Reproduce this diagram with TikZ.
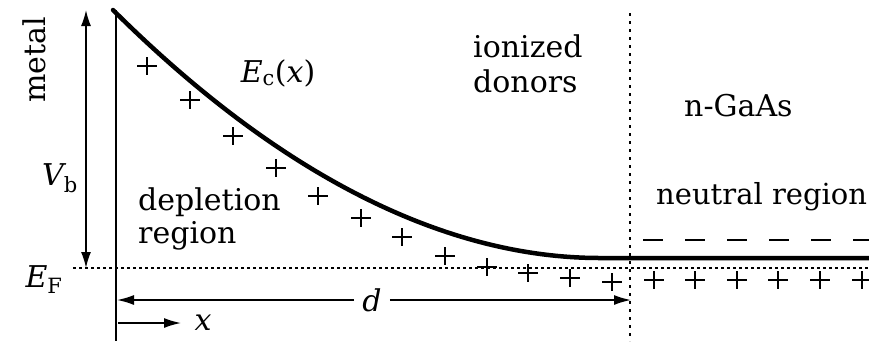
\documentclass[tikz,border=0pt]{standalone}
\usepackage{fontspec}
\setmainfont{DejaVu Serif}
\usetikzlibrary{arrows.meta}
\begin{document}
\begin{tikzpicture}[x=1pt,y=-1pt,
  lbl/.style={font=\fontsize{30}{34}\selectfont, inner sep=0pt},
  thickcurve/.style={line width=4.5pt},
  dotline/.style={line width=1.3pt, dash pattern=on 3pt off 3pt},
  arr/.style={line width=1.6pt, -{Latex[length=17pt,width=10pt]}},
  plusmark/.style={line width=2pt}
]
\useasboundingbox (0,0) rectangle (869,341);
\clip (0,0) rectangle (869,341);
% coordinates
\coordinate (top) at (113,10);
\coordinate (vtx) at (600,258);
\coordinate (rgt) at (869,258);
\coordinate (mtop) at (116,10);
\coordinate (mbot) at (116,341);
\coordinate (ef0) at (73,268);
\coordinate (ef1) at (869,268);
\coordinate (dv0) at (630,13);
\coordinate (dv1) at (630,341);
\coordinate (nd0) at (643,240);
\coordinate (nd1) at (869,240);
\coordinate (vb0) at (86,10);
\coordinate (vb1) at (86,268);
\coordinate (dl) at (117,300);
\coordinate (dr) at (631,300);
\coordinate (xs) at (118,323);
\coordinate (xe) at (181,323);
% lines
\draw[line width=2.5pt] (mtop) -- (mbot);
\draw[thickcurve, line cap=round] (top) .. controls (272,168) and (438,258) .. (vtx) -- (rgt);
\draw[dotline] (ef0) -- (ef1);
\draw[line width=1.3pt, dash pattern=on 3pt off 5pt] (dv0) -- (dv1);
\draw[line width=2pt, dash pattern=on 20pt off 22pt] (nd0) -- (nd1);
\draw[line width=1.6pt, {Latex[length=16pt,width=10pt]}-{Latex[length=16pt,width=10pt]}] (vb0) -- (vb1);
% donors
\foreach \px/\py in {147/66, 190/100, 233/136, 276/168, 318/196, 361/218, 402/237, 445/256, 487/267, 528/273, 570/278, 612/282, 654/280, 695/280, 737/280, 778/280, 820/280, 862/280}
  \draw[plusmark] (\px-10,\py) -- (\px+10,\py) (\px,\py-9) -- (\px,\py+9);
% labels
\node[lbl, rotate=90] (metal) at (34,60) {metal};
\node[lbl, anchor=base] (vb) at (60,185) {\itshape V\textsubscript{\upshape b}};
\node[lbl, anchor=base] (ef) at (44,287) {\itshape E\textsubscript{\upshape F}};
\node[lbl, anchor=base] (ec) at (278,82) {\itshape E\textsubscript{\upshape c}\upshape(\itshape x\upshape)};
\node[lbl, anchor=base west] (dep1) at (138,210) {depletion};
\node[lbl, anchor=base west] (dep2) at (138,243) {region};
\node[lbl, anchor=base west] (ion1) at (473,57) {ionized};
\node[lbl, anchor=base west] (ion2) at (473,92) {donors};
\node[lbl, anchor=base west] (gaas) at (684,116) {n-GaAs};
\node[lbl, font=\fontsize{29}{34}\selectfont, anchor=base west] (neut) at (656,204) {neutral region};
% d arrow
\node[lbl, fill=white, inner xsep=8pt, inner ysep=2pt] (d) at (372,300) {\itshape d};
\draw[arr] (d) -- (dr);
\draw[arr] (d) -- (dl);
% x arrow
\draw[arr] (xs) -- (xe);
\node[lbl] (xl) at (203,323) {\itshape x};
\end{tikzpicture}
\end{document}
